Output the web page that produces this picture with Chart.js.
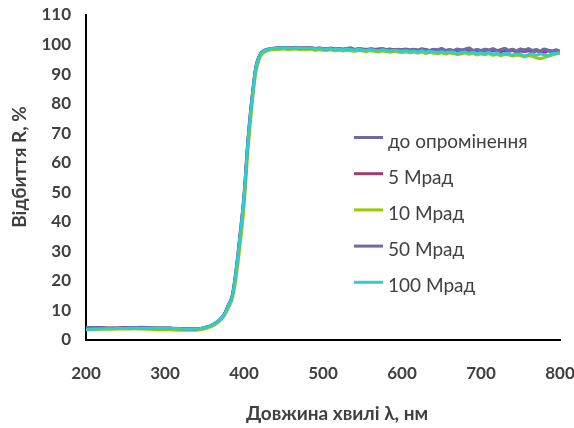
<!DOCTYPE html>
<html>
<head>
<meta charset="utf-8">
<script src="https://cdn.jsdelivr.net/npm/chart.js@4.4.1/dist/chart.umd.min.js"></script>
<style>
html,body{margin:0;padding:0;background:#fff;}
#wrap{width:574px;height:428px;position:relative;}
</style>
</head>
<body>
<div id="wrap"><canvas id="c" width="574" height="428"></canvas></div>
<script>
// Wavelength, nm (shared x values)
const wavelengths = [
  200,210,220,230,240,250,260,270,280,290,300,310,320,330,340,
  345,350,355,360,365,370,375,380,385,390,395,400,405,410,415,420,425,430,435,440,
  445,450,455,460,465,470,475,480,485,490,495,500,
  505,510,515,520,525,530,535,540,545,550,555,560,565,570,575,580,585,590,595,600,
  605,610,615,620,625,630,635,640,645,650,655,660,665,670,675,680,685,690,695,700,
  705,710,715,720,725,730,735,740,745,750,755,760,765,770,775,780,785,790,795,800
];

const seriesLabels = ['до опромінення', '5 Мрад', '10 Мрад', '50 Мрад', '100 Мрад'];

const before = [
  4.3,4.2,4.2,4.1,4.1,4.2,4.2,4.3,4.2,4.1,4.1,4.0,3.9,3.8,3.8,
  3.9,4.2,4.6,5.1,6.0,7.1,8.8,11.8,15.0,24,36,49,68,82,92.5,96.5,97.9,98.4,98.7,98.8,
  98.9,99.0,98.9,98.8,99.1,98.9,98.8,98.9,99.0,98.7,98.8,98.7,
  98.6,98.8,98.5,98.7,98.5,98.6,98.9,98.4,98.6,98.5,98.3,98.6,98.4,98.5,98.7,98.3,98.5,98.2,98.4,98.3,
  98.5,98.2,98.4,98.1,98.6,98.3,98.0,98.4,98.2,98.7,98.1,98.3,98.0,98.5,98.2,98.4,98.8,98.1,98.3,98.0,
  98.4,98.2,98.6,98.0,98.3,98.7,98.1,98.4,97.9,98.5,98.2,98.6,98.0,98.3,97.8,98.5,98.1,97.9,98.2,97.6
];

const mrad5 = [
  3.9,3.9,4.0,4.0,4.0,4.1,4.1,4.1,4.0,4.0,4.0,3.9,3.8,3.7,3.7,
  3.8,4.1,4.5,5.0,5.8,6.9,8.5,11.4,14.6,23,35,48,67,81,92,96.4,97.8,98.3,98.6,98.7,
  98.8,98.9,98.8,98.8,98.9,98.7,98.8,98.7,98.8,98.6,98.7,98.6,
  98.5,98.6,98.4,98.6,98.3,98.5,98.4,98.2,98.5,98.3,98.4,98.2,98.1,98.4,98.2,98.3,98.0,98.3,98.2,98.0,
  98.2,98.0,98.3,98.1,97.9,98.2,98.0,98.1,97.8,98.2,97.9,98.1,97.8,98.0,97.7,98.1,97.9,97.6,98.0,97.8,
  98.0,97.7,97.9,98.1,97.6,97.9,97.7,98.0,97.5,97.8,97.6,97.9,97.4,97.8,97.6,97.3,97.9,97.5,97.7,97.8
];

const mrad10 = [
  3.5,3.5,3.6,3.6,3.7,3.7,3.8,3.7,3.6,3.5,3.5,3.4,3.3,3.3,3.3,
  3.5,3.8,4.2,4.7,5.5,6.6,8.2,10.8,13.8,21,32,45,64,79,90.5,95.5,97.2,97.9,98.2,98.3,
  98.4,98.5,98.3,98.4,98.5,98.3,98.2,98.3,98.4,98.1,98.2,98.1,
  98.0,98.2,97.9,98.1,97.8,98.0,97.9,97.7,98.0,97.8,97.6,97.9,97.7,97.5,97.8,97.6,97.4,97.7,97.5,97.3,
  97.5,97.2,97.4,97.1,97.5,97.0,97.3,97.1,96.9,97.2,96.8,97.1,97.0,96.6,96.9,97.1,96.7,97.0,96.5,96.8,
  96.6,96.9,96.4,96.7,96.2,96.6,96.5,96.1,96.4,96.3,95.8,96.2,96.0,95.5,95.2,95.6,96.0,96.4,96.8,97.0
];

const mrad50 = [
  3.8,3.8,3.9,3.9,4.0,4.0,4.1,4.1,4.1,4.0,4.0,3.9,3.8,3.7,3.7,
  3.9,4.2,4.6,5.1,5.9,7.0,8.7,11.6,14.8,23.5,35.5,48.5,67.5,81.5,92.2,96.5,97.9,98.4,98.7,98.8,
  98.9,99.0,98.9,98.7,99.0,98.8,98.7,98.9,98.8,98.6,98.8,98.6,
  98.5,98.7,98.4,98.6,98.4,98.5,98.7,98.3,98.5,98.4,98.2,98.5,98.3,98.1,98.5,98.2,98.4,98.0,98.3,98.1,
  98.3,98.0,98.3,97.9,98.4,98.1,97.9,98.3,98.0,98.5,97.9,98.2,97.8,98.3,98.0,98.4,98.6,97.9,98.2,97.8,
  98.2,98.0,98.5,97.8,98.2,98.6,97.9,98.3,97.7,98.4,98.0,98.5,97.8,98.1,97.6,98.3,97.9,97.7,98.0,97.5
];

const mrad100 = [
  3.6,3.7,3.8,3.8,3.9,3.9,4.0,4.0,4.0,4.0,4.0,3.9,3.8,3.7,3.7,
  3.9,4.2,4.6,5.1,5.9,7.0,8.6,11.5,14.5,23,35,48,67,81,92,96.3,97.8,98.3,98.6,98.7,
  98.8,98.9,98.8,98.7,98.9,98.8,98.6,98.7,98.8,98.5,98.6,98.5,
  98.4,98.6,98.3,98.5,98.2,98.4,98.3,98.1,98.4,98.2,98.0,98.3,98.1,97.9,98.2,98.0,97.8,98.1,97.9,97.7,
  97.9,97.6,97.8,97.5,97.9,97.4,97.7,97.5,97.3,97.6,97.2,97.5,97.4,97.0,97.3,97.5,97.1,97.4,96.9,97.2,
  97.0,97.3,96.8,97.1,96.6,97.0,96.9,96.5,96.8,96.7,96.2,96.6,96.9,96.4,96.8,96.6,96.3,96.9,97.0,97.3
];

const xTicks = [200, 300, 400, 500, 600, 700, 800];
const yTicks = [0, 10, 20, 30, 40, 50, 60, 70, 80, 90, 100, 110];
const xTitle = 'Довжина хвилі λ, нм';
const yTitle = 'Відбиття R, %';

const seriesValues = [before, mrad5, mrad10, mrad50, mrad100];
const seriesColors = ['#6A6AA6', '#9C3E6C', '#99CC00', '#6B6BAD', '#33CCCC'];
const drawOrder = [4, 3, 2, 1, 0];

const TEXT = '#404040';
const FONT = 'Lato, "Open Sans", sans-serif';

const datasets = seriesLabels.map((lab, i) => ({
  label: lab,
  data: wavelengths.map((w, k) => ({x: w, y: seriesValues[i][k]})),
  borderColor: seriesColors[i],
  backgroundColor: seriesColors[i],
  borderWidth: 3,
  pointRadius: 0,
  cubicInterpolationMode: 'monotone',
  order: drawOrder[i],
  fill: false
}));

const extras = {
  id: 'extras',
  afterDraw(chart) {
    const ctx = chart.ctx;
    ctx.save();
    ctx.fillStyle = TEXT;
    ctx.font = 'bold 19px ' + FONT;
    ctx.textAlign = 'center';
    ctx.textBaseline = 'middle';
    ctx.fillText(xTitle, 337, 414);
    ctx.translate(20, 167);
    ctx.rotate(-Math.PI / 2);
    ctx.fillText(yTitle, 0, 0);
    ctx.restore();

    ctx.save();
    ctx.font = '19px ' + FONT;
    ctx.textAlign = 'left';
    ctx.textBaseline = 'middle';
    const y0 = 137.5, dy = 36.2;
    seriesLabels.forEach((lab, i) => {
      const y = y0 + i * dy;
      ctx.strokeStyle = seriesColors[i];
      ctx.lineWidth = 3;
      ctx.beginPath();
      ctx.moveTo(354, y);
      ctx.lineTo(383, y);
      ctx.stroke();
      ctx.fillStyle = TEXT;
      ctx.fillText(lab, 388, y + 4);
    });
    ctx.restore();
  }
};

new Chart(document.getElementById('c'), {
  type: 'line',
  data: { datasets },
  options: {
    responsive: false,
    devicePixelRatio: 1,
    animation: false,
    layout: { padding: { top: 15, right: 14, left: 0, bottom: 0 } },
    plugins: { legend: { display: false }, tooltip: { enabled: false }, title: { display: false } },
    scales: {
      x: {
        type: 'linear',
        min: 200, max: 800,
        afterFit(s) { s.height = 88; s.paddingLeft = 0; s.paddingRight = 0; },
        afterBuildTicks(s) { s.ticks = xTicks.map(v => ({value: v})); },
        grid: { display: false, drawTicks: false },
        border: { display: true, color: '#000', width: 2 },
        ticks: { color: TEXT, font: { family: FONT, size: 17, weight: 'bold' }, padding: 23, maxRotation: 0 }
      },
      y: {
        type: 'linear',
        min: 0, max: 110,
        afterFit(s) { s.width = 86; s.paddingTop = 0; s.paddingBottom = 0; },
        afterBuildTicks(s) { s.ticks = yTicks.map(v => ({value: v})); },
        grid: { display: false, drawTicks: false },
        border: { display: true, color: '#000', width: 2 },
        ticks: { color: TEXT, font: { family: FONT, size: 17, weight: 'bold' }, padding: 15 }
      }
    }
  },
  plugins: [extras]
});
</script>
</body>
</html>
